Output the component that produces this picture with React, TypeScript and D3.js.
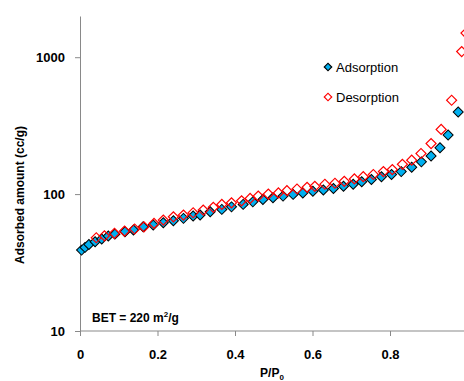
import React, { useRef, useEffect } from "react";
import * as d3 from "d3";

// adsorption branch (P/P0, cc/g)
const adsP = [0.004, 0.013, 0.023, 0.039, 0.056, 0.073, 0.09, 0.116, 0.138, 0.163, 0.189, 0.215, 0.241, 0.267, 0.292, 0.31, 0.336, 0.366, 0.391, 0.421, 0.446, 0.472, 0.498, 0.524, 0.55, 0.575, 0.601, 0.628, 0.654, 0.68, 0.705, 0.727, 0.752, 0.778, 0.804, 0.829, 0.856, 0.881, 0.906, 0.929, 0.95, 0.976];
const adsV = [39.0, 40.8, 42.9, 44.9, 47.0, 49.4, 51.0, 53.1, 54.6, 57.7, 59.4, 61.7, 63.8, 66.5, 69.1, 70.3, 74.3, 77.3, 80.7, 84.1, 87.8, 91.4, 94, 96.7, 99.5, 102, 105, 107, 110, 114, 118, 123, 128, 134, 139, 146, 157, 172, 190, 218, 270, 398];

// desorption branch
const desP = [0.042, 0.063, 0.089, 0.115, 0.141, 0.165, 0.191, 0.215, 0.241, 0.267, 0.292, 0.318, 0.344, 0.366, 0.391, 0.417, 0.439, 0.46, 0.486, 0.512, 0.534, 0.56, 0.586, 0.606, 0.632, 0.658, 0.682, 0.708, 0.731, 0.757, 0.783, 0.806, 0.832, 0.856, 0.88, 0.906, 0.932, 0.959, 0.985, 0.996];
const desV = [48, 49.6, 51.7, 53.7, 55.6, 57.7, 61.1, 64.6, 68.2, 70.3, 73.1, 76.4, 80, 84.1, 86.4, 89.3, 93, 96.7, 100, 102, 106, 109, 112, 114, 118, 120, 124, 129, 134, 139, 146, 151, 165, 177, 198, 234, 297, 485, 1100, 1500];

const xTicks = [0, 0.2, 0.4, 0.6, 0.8];
const yTicks = [10, 100, 1000];

const W = 464;
const H = 381;
const FONT = "'Liberation Sans', Arial, sans-serif";

const Chart: React.FC = () => {
  const svgRef = useRef<SVGSVGElement | null>(null);
  const margin = { top: 16, left: 80, bottom: 50 };

  useEffect(() => {
    const svg = d3.select(svgRef.current);
    svg.selectAll("*").remove();

    const x = d3.scaleLinear().domain([0, 1]).range([margin.left, margin.left + 387.5]);
    const y = d3.scaleLog().domain([10, 2000]).range([H - margin.bottom, margin.top]);

    const axisColor = "#898989";

    // x axis
    const gx = svg.append("g").attr("transform", `translate(0,${y(10)})`);
    gx.call(d3.axisBottom(x).tickValues(xTicks).tickSize(5).tickFormat(d3.format("")));
    gx.select(".domain").attr("stroke", axisColor).attr("d", `M${x(0)},0H${W + 10}`);
    gx.selectAll(".tick line").attr("stroke", axisColor);
    gx.selectAll(".tick text")
      .attr("fill", "#000")
      .attr("dy", "1.55em")
      .style("font-family", FONT)
      .style("font-weight", "bold")
      .style("font-size", "13px")
      .text((d: any) => (d === 0 ? "0" : d3.format(".1f")(d)));

    // y axis
    const gy = svg.append("g").attr("transform", `translate(${x(0)},0)`);
    gy.call(d3.axisLeft(y).tickValues(yTicks).tickSize(5).tickSizeOuter(0).tickFormat(d3.format("d")));
    gy.select(".domain").attr("stroke", axisColor);
    gy.selectAll(".tick line").attr("stroke", axisColor);
    gy.selectAll(".tick text")
      .attr("fill", "#000")
      .attr("x", -15)
      .style("font-family", FONT)
      .style("font-weight", "bold")
      .style("font-size", "13px");

    const diamond = d3.symbol(d3.symbolSquare, 50)();

    const ads = adsP.map((p, i) => ({ p, v: adsV[i] }));
    const des = desP.map((p, i) => ({ p, v: desV[i] }));

    svg.append("g")
      .selectAll("path")
      .data(ads)
      .enter()
      .append("path")
      .attr("d", diamond)
      .attr("transform", (d) => `translate(${x(d.p)},${y(d.v)}) rotate(45)`)
      .attr("fill", "#00B0F0")
      .attr("stroke", "#000")
      .attr("stroke-width", 1);

    svg.append("g")
      .selectAll("path")
      .data(des)
      .enter()
      .append("path")
      .attr("d", diamond)
      .attr("transform", (d) => `translate(${x(d.p)},${y(d.v)}) rotate(45)`)
      .attr("fill", "none")
      .attr("stroke", "#FF0000")
      .attr("stroke-width", 1.2);

    // legend
    const small = d3.symbol(d3.symbolSquare, 28)();
    const legend = [
      { label: "Adsorption", fill: "#00B0F0", stroke: "#000", y: 67 },
      { label: "Desorption", fill: "#fff", stroke: "#FF0000", y: 97 },
    ];
    const lg = svg.append("g");
    legend.forEach((l) => {
      lg.append("path")
        .attr("d", small)
        .attr("transform", `translate(328,${l.y}) rotate(45)`)
        .attr("fill", l.fill)
        .attr("stroke", l.stroke)
        .attr("stroke-width", 1.2);
      lg.append("text")
        .attr("x", 336)
        .attr("y", l.y + 4.5)
        .style("font-family", FONT)
        .style("font-size", "13px")
        .attr("fill", "#000")
        .text(l.label);
    });

    // BET annotation
    const bet = svg.append("text")
      .attr("x", 92)
      .attr("y", 322)
      .style("font-family", FONT)
      .style("font-weight", "bold")
      .style("font-size", "12px")
      .attr("fill", "#000");
    bet.append("tspan").text("BET = 220 m");
    bet.append("tspan").attr("dy", -5).style("font-size", "8px").text("2");
    bet.append("tspan").attr("dy", 5).text("/g");

    // axis titles
    const xt = svg.append("text")
      .attr("x", 272)
      .attr("y", 377)
      .attr("text-anchor", "middle")
      .style("font-family", FONT)
      .style("font-weight", "bold")
      .style("font-size", "12px")
      .attr("fill", "#000");
    xt.append("tspan").text("P/P");
    xt.append("tspan").attr("dy", 3).style("font-size", "8px").text("0");

    svg.append("text")
      .attr("transform", `translate(24,195) rotate(-90)`)
      .attr("text-anchor", "middle")
      .style("font-family", FONT)
      .style("font-weight", "bold")
      .style("font-size", "12px")
      .attr("fill", "#000")
      .text("Adsorbed amount (cc/g)");
  }, []);

  return (
    <svg
      ref={svgRef}
      width={W}
      height={H}
      style={{ position: "absolute", left: 0, top: 0, background: "#fff" }}
    />
  );
};

export default function App() {
  return <Chart />;
}
